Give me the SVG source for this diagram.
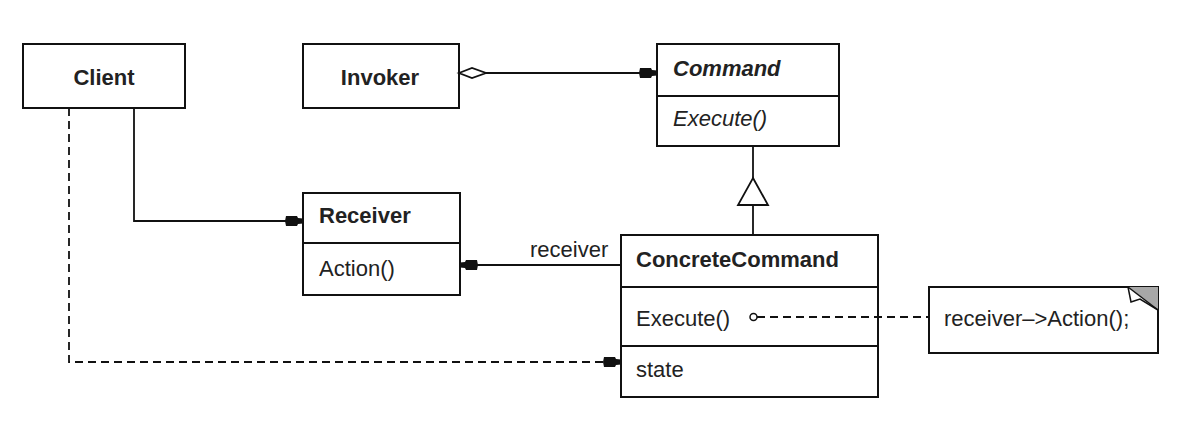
<svg xmlns="http://www.w3.org/2000/svg" width="1186" height="422" viewBox="0 0 1186 422">
<style>
.box{fill:#fff;stroke:#111;stroke-width:2}
.ln{fill:none;stroke:#111;stroke-width:1.8}
.dash{fill:none;stroke:#111;stroke-width:1.8;stroke-dasharray:8 5}
text{font-family:"Liberation Sans",Arial,sans-serif;font-size:22px;fill:#222}
.b{font-weight:bold}
.i{font-style:italic}
</style>
<defs>
<marker id="arr" viewBox="-18 -6 19 12" refX="0" refY="0" markerWidth="19" markerHeight="12" markerUnits="userSpaceOnUse" orient="auto">
<path d="M0,-2.5 L-5,-3 L-6,-5 L-17,-5 L-18,0 L-17,5 L-6,5 L-5,3 L0,2.5 Z" fill="#111"/>
</marker>
</defs>
<g id="client">
<rect class="box" x="23" y="44" width="162" height="64"/>
<text class="b" x="104" y="85" text-anchor="middle">Client</text>
</g>
<g id="invoker">
<rect class="box" x="303" y="44" width="156" height="64"/>
<text class="b" x="380" y="85" text-anchor="middle">Invoker</text>
</g>
<g id="command">
<rect class="box" x="657" y="44" width="182" height="102"/>
<line class="ln" x1="657" y1="96" x2="839" y2="96"/>
<text class="b i" x="673" y="76">Command</text>
<text class="i" x="673" y="126">Execute()</text>
</g>
<g id="receiver">
<rect class="box" x="303" y="193" width="157" height="102"/>
<line class="ln" x1="303" y1="243" x2="460" y2="243"/>
<text class="b" x="319" y="223">Receiver</text>
<text x="319" y="276">Action()</text>
</g>
<g id="concretecommand">
<rect class="box" x="621" y="235" width="257" height="162"/>
<line class="ln" x1="621" y1="287" x2="878" y2="287"/>
<line class="ln" x1="621" y1="346" x2="878" y2="346"/>
<text class="b" x="636" y="267">ConcreteCommand</text>
<text x="636" y="326">Execute()</text>
<text x="636" y="377">state</text>
</g>
<g id="note">
<rect class="box" x="929" y="287" width="229" height="66"/>
<path d="M1128,287 L1158,287 L1158,310 Z" fill="#a8a8a8"/>
<path d="M1128,287 L1131,302 L1140,299 L1158,310" fill="#fff" stroke="#111" stroke-width="1.5"/>
<line x1="1128" y1="287" x2="1158" y2="310" stroke="#111" stroke-width="1.5"/>
<text x="944" y="326">receiver–&gt;Action();</text>
</g>
<g id="connectors">
<path class="ln" d="M486,73 L657,73" marker-end="url(#arr)"/>
<path class="ln" d="M459,73 L472,68 L486,73 L472,78 Z" fill="#fff"/>
<path class="ln" d="M753,146 L753,178"/>
<path class="ln" d="M753,178 L768,205 L738,205 Z" fill="#fff"/>
<path class="ln" d="M753,205 L753,235"/>
<path class="ln" d="M621,265 L460,265" marker-end="url(#arr)"/>
<text x="530" y="257">receiver</text>
<path class="ln" d="M134,108 L134,221 L303,221" marker-end="url(#arr)"/>
<path class="dash" d="M69,108 L69,362 L621,362" marker-end="url(#arr)"/>
<path class="dash" d="M757,317 L929,317"/>
<circle cx="753.5" cy="317" r="3.5" fill="#fff" stroke="#111" stroke-width="1.5"/>
</g>
</svg>
